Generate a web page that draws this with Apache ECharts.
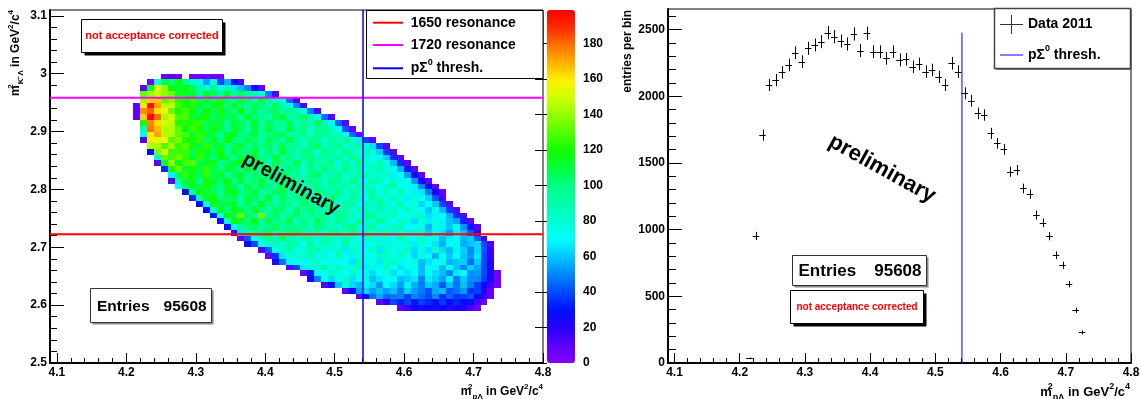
<!DOCTYPE html>
<html>
<head>
<meta charset="utf-8">
<title>Dalitz plot and p-Lambda projection</title>
<script src="https://cdn.jsdelivr.net/npm/echarts@6.0.0/dist/echarts.min.js"></script>
<style>
  html, body { margin: 0; padding: 0; background: #fff; }
  #chart { width: 1141px; height: 399px; }
</style>
</head>
<body>
<div id="chart"></div>
<script>
// axis ranges and tick labels
const xRange = [4.09, 4.8]
const yRangeLeft = [2.5, 3.11]
const yRangeRight = [0, 2655]
const zRange = [0, 199]
const xTicks = [4.1, 4.2, 4.3, 4.4, 4.5, 4.6, 4.7, 4.8]
const yTicksLeft = [2.5, 2.6, 2.7, 2.8, 2.9, 3.0, 3.1]
const yTicksRight = [0, 500, 1000, 1500, 2000, 2500]
const zTicks = [0, 20, 40, 60, 80, 100, 120, 140, 160, 180]

const binWidth = 0.01
const entries = 95608

// masses in GeV for the reference lines
const mProton = 0.938272
const mSigma0 = 1.192642
const mRes1650 = 1.65
const mRes1720 = 1.72

// 2D histogram, one row per y bin: lower y edge, lower x edge of first filled bin, counts
const rowYLow = [2.99, 2.98, 2.97, 2.96, 2.95, 2.94, 2.93, 2.92, 2.91, 2.90, 2.89, 2.88, 2.87, 2.86,
  2.85, 2.84, 2.83, 2.82, 2.81, 2.80, 2.79, 2.78, 2.77, 2.76, 2.75, 2.74, 2.73, 2.72, 2.71, 2.70,
  2.69, 2.68, 2.67, 2.66, 2.65, 2.64, 2.63, 2.62, 2.61, 2.60, 2.59]
const rowXStart = [4.25, 4.23, 4.22, 4.22, 4.22, 4.21, 4.21, 4.21, 4.22, 4.22, 4.22, 4.22, 4.23, 4.23,
  4.24, 4.24, 4.25, 4.26, 4.26, 4.27, 4.28, 4.29, 4.30, 4.31, 4.32, 4.33, 4.34, 4.35, 4.36, 4.37,
  4.39, 4.40, 4.41, 4.43, 4.45, 4.46, 4.48, 4.51, 4.53, 4.56, 4.59]
const rowCounts = [
  [6, 9, 5, 0, 4, 7, 5, 8, 4],
  [5, 70, 110, 102, 116, 98, 84, 68, 54, 80, 40, 56, 30, 14],
  [8, 112, 152, 138, 118, 112, 120, 104, 92, 80, 98, 74, 86, 66, 58, 50, 30, 8],
  [133, 141, 148, 138, 135, 114, 113, 113, 96, 113, 106, 99, 112, 92, 105, 95, 90, 81, 48, 12],
  [142, 164, 166, 132, 138, 123, 120, 125, 104, 116, 104, 121, 104, 98, 109, 104, 93, 109, 99, 83, 70, 45, 12],
  [8, 160, 195, 172, 146, 149, 126, 115, 121, 115, 103, 118, 111, 101, 115, 103, 95, 108, 103, 89, 106, 90, 78, 50, 12],
  [10, 175, 182, 162, 156, 133, 120, 128, 119, 103, 119, 106, 117, 106, 99, 116, 100, 106, 92, 101, 106, 93, 100, 90, 76, 48, 12],
  [8, 165, 198, 180, 144, 152, 127, 128, 109, 115, 119, 105, 111, 104, 109, 97, 112, 103, 98, 89, 105, 110, 92, 96, 103, 90, 74, 46, 10],
  [120, 176, 162, 150, 146, 121, 122, 123, 125, 106, 109, 111, 94, 112, 106, 99, 113, 93, 106, 96, 98, 106, 86, 99, 88, 106, 88, 72, 44, 10],
  [86, 178, 168, 145, 145, 131, 115, 126, 118, 107, 120, 107, 98, 111, 106, 92, 109, 97, 109, 99, 92, 109, 93, 99, 85, 94, 99, 86, 70, 42, 8],
  [70, 160, 172, 145, 145, 130, 129, 112, 125, 114, 107, 97, 112, 117, 99, 103, 110, 92, 98, 104, 108, 91, 95, 98, 82, 100, 94, 87, 86, 70, 44, 8],
  [12, 160, 152, 156, 130, 136, 121, 119, 125, 103, 114, 102, 119, 103, 97, 108, 103, 92, 108, 102, 93, 107, 95, 87, 100, 95, 81, 98, 86, 98, 84, 66, 40, 8],
  [145, 144, 129, 141, 124, 131, 118, 109, 124, 107, 112, 97, 106, 111, 98, 105, 99, 104, 92, 107, 98, 93, 84, 100, 105, 87, 91, 98, 80, 86, 92, 82, 64, 40, 10],
  [30, 135, 150, 127, 126, 125, 106, 122, 114, 106, 119, 98, 111, 101, 103, 111, 91, 104, 93, 111, 95, 89, 100, 95, 84, 100, 94, 85, 99, 87, 79, 92, 80, 62, 38, 10],
  [80, 132, 127, 134, 124, 112, 124, 111, 102, 114, 108, 94, 111, 99, 111, 101, 94, 111, 95, 101, 87, 96, 101, 88, 95, 89, 94, 82, 97, 88, 83, 74, 78, 60, 36, 8],
  [10, 112, 140, 115, 127, 129, 109, 112, 118, 99, 104, 110, 114, 97, 101, 104, 88, 106, 100, 93, 107, 87, 100, 90, 92, 100, 80, 93, 82, 100, 84, 78, 89, 76, 58, 34, 8],
  [35, 118, 133, 110, 120, 108, 125, 108, 101, 111, 106, 95, 111, 105, 96, 110, 98, 90, 103, 98, 84, 101, 89, 101, 91, 84, 101, 85, 91, 77, 86, 91, 77, 74, 56, 32, 8],
  [68, 108, 125, 114, 107, 124, 107, 112, 97, 106, 111, 98, 105, 99, 104, 92, 107, 98, 93, 84, 100, 105, 87, 91, 98, 80, 86, 92, 96, 79, 83, 85, 68, 72, 54, 30, 8],
  [10, 92, 111, 116, 100, 118, 112, 104, 117, 97, 110, 100, 102, 110, 90, 103, 92, 110, 94, 88, 99, 94, 83, 99, 93, 84, 98, 86, 78, 91, 86, 71, 87, 74, 70, 52, 30, 8],
  [70, 104, 115, 106, 120, 108, 100, 112, 107, 93, 110, 98, 110, 100, 93, 110, 94, 100, 86, 95, 100, 87, 94, 88, 93, 81, 96, 87, 82, 73, 88, 92, 73, 76, 68, 50, 30, 8],
  [30, 96, 119, 111, 106, 97, 112, 117, 99, 103, 110, 92, 98, 104, 108, 91, 95, 98, 82, 100, 94, 87, 101, 81, 94, 84, 86, 94, 74, 86, 74, 91, 74, 67, 66, 48, 28, 8],
  [34, 90, 115, 119, 102, 105, 108, 92, 110, 104, 97, 111, 91, 104, 94, 96, 104, 84, 97, 86, 104, 88, 82, 93, 88, 77, 93, 87, 77, 90, 77, 68, 80, 74, 62, 42, 12],
  [30, 72, 118, 107, 108, 115, 94, 107, 96, 114, 98, 92, 103, 98, 87, 103, 97, 88, 102, 90, 82, 95, 90, 76, 93, 81, 93, 82, 74, 90, 73, 78, 63, 71, 60, 40, 10],
  [28, 76, 115, 101, 116, 109, 99, 113, 101, 93, 106, 101, 87, 104, 92, 104, 94, 87, 104, 88, 94, 80, 89, 94, 81, 88, 81, 85, 72, 86, 76, 70, 60, 75, 58, 38, 10],
  [32, 70, 119, 106, 135, 104, 97, 137, 98, 104, 90, 99, 104, 91, 98, 92, 97, 85, 100, 91, 86, 77, 93, 98, 80, 83, 89, 70, 75, 80, 83, 65, 68, 70, 56, 36, 10],
  [30, 76, 119, 110, 102, 115, 94, 107, 97, 99, 107, 87, 100, 89, 107, 91, 85, 96, 91, 80, 96, 90, 81, 95, 82, 73, 85, 79, 64, 80, 67, 78, 67, 59, 54, 34, 10],
  [28, 70, 96, 101, 106, 92, 101, 106, 93, 100, 94, 99, 87, 102, 93, 88, 79, 95, 100, 82, 86, 93, 75, 80, 85, 88, 70, 73, 75, 58, 75, 68, 60, 73, 52, 32, 10],
  [12, 66, 88, 95, 99, 106, 88, 94, 100, 104, 87, 91, 94, 78, 96, 90, 83, 97, 77, 90, 80, 82, 89, 68, 80, 68, 85, 68, 61, 71, 65, 53, 68, 59, 42, 16],
  [10, 42, 72, 88, 98, 87, 105, 89, 83, 94, 89, 78, 94, 88, 79, 93, 81, 73, 86, 81, 67, 84, 72, 89, 78, 70, 86, 69, 74, 59, 67, 71, 57, 61, 44, 14],
  [26, 40, 70, 84, 89, 81, 94, 89, 75, 92, 80, 92, 82, 75, 92, 76, 82, 68, 77, 82, 69, 76, 76, 80, 67, 81, 71, 65, 56, 71, 75, 56, 59, 63, 40, 12],
  [10, 44, 72, 84, 94, 76, 82, 88, 92, 75, 79, 82, 66, 84, 78, 71, 85, 65, 86, 76, 77, 84, 63, 75, 64, 81, 64, 58, 68, 62, 50, 63, 42, 16],
  [8, 36, 66, 76, 79, 81, 89, 69, 82, 71, 89, 73, 67, 78, 82, 71, 87, 81, 72, 85, 72, 63, 75, 70, 56, 72, 60, 71, 60, 52, 66, 40, 18],
  [24, 46, 68, 76, 69, 78, 83, 70, 77, 71, 76, 64, 89, 80, 75, 66, 82, 87, 69, 72, 78, 59, 65, 71, 74, 57, 60, 62, 45, 61, 40, 20],
  [10, 40, 66, 84, 80, 94, 74, 87, 77, 79, 87, 67, 80, 69, 87, 71, 65, 75, 69, 58, 74, 68, 58, 72, 59, 50, 62, 55, 40, 22],
  [8, 32, 70, 72, 87, 77, 70, 87, 71, 77, 63, 72, 77, 64, 71, 65, 70, 58, 73, 64, 59, 50, 66, 70, 51, 53, 40, 24, 4],
  [22, 48, 70, 63, 78, 83, 65, 70, 77, 59, 65, 71, 75, 58, 62, 65, 49, 67, 61, 54, 68, 48, 61, 50, 50, 38, 22, 3],
  [12, 30, 60, 79, 63, 58, 69, 64, 53, 69, 63, 54, 68, 56, 48, 61, 56, 42, 59, 47, 59, 48, 38, 28, 14, 3],
  [10, 30, 54, 64, 53, 60, 54, 59, 48, 62, 53, 48, 41, 55, 58, 42, 46, 53, 36, 38, 22, 8],
  [8, 24, 46, 55, 45, 47, 49, 38, 50, 45, 40, 50, 35, 44, 37, 38, 42, 26, 18, 6],
  [8, 20, 40, 33, 39, 31, 38, 34, 30, 37, 28, 34, 26, 30, 14, 6],
  [8, 16, 26, 20, 28, 23, 27, 19, 25, 21, 14, 5]
]

// projection onto m2(p Lambda): bin centres and entries per bin
const projCenters = [4.215, 4.225, 4.235, 4.245, 4.255, 4.265, 4.275, 4.285, 4.295, 4.305,
  4.315, 4.325, 4.335, 4.345, 4.355, 4.365, 4.375, 4.385, 4.395, 4.405,
  4.415, 4.425, 4.435, 4.445, 4.455, 4.465, 4.475, 4.485, 4.495, 4.505,
  4.515, 4.525, 4.535, 4.545, 4.555, 4.565, 4.575, 4.585, 4.595, 4.605,
  4.615, 4.625, 4.635, 4.645, 4.655, 4.665, 4.675, 4.685, 4.695, 4.705,
  4.715, 4.725, 4.735]
const projCounts = [35, 953, 1709, 2085, 2122, 2180, 2235, 2327, 2260, 2360,
  2385, 2410, 2478, 2448, 2415, 2393, 2468, 2343, 2473, 2335,
  2335, 2285, 2335, 2273, 2278, 2222, 2243, 2185, 2198, 2147,
  2085, 2248, 2185, 2023, 1967, 1872, 1860, 1722, 1647, 1602,
  1434, 1447, 1309, 1267, 1109, 1051, 951, 808, 733, 591,
  396, 230, 8]

// ---- derived values ----
const thresh = Math.pow(mProton + mSigma0, 2)
const res1650 = mRes1650 * mRes1650
const res1720 = mRes1720 * mRes1720

const cells = []
rowCounts.forEach((row, r) => {
  row.forEach((n, k) => {
    if (n > 0) cells.push([+(rowXStart[r] + k * binWidth).toFixed(3), rowYLow[r], n])
  })
})
const projData = projCenters.map((x, i) => [x, projCounts[i]])

const font = '"Liberation Sans", Arial, Helvetica, sans-serif'
// ROOT style rainbow palette, violet (low) to red (high)
const paletteColors = ['#8000ff', '#5c00ff', '#2800ff', '#000eff', '#004aff', '#0087ff', '#00c5ff',
  '#00fffd', '#00ffd6', '#00ffae', '#00ff87', '#00ff3e', '#0fff00', '#4fff00', '#8fff00',
  '#ceff00', '#fff100', '#ffb200', '#ff7100', '#ff2a00', '#ff0000']

function minorValues(ticks, n, min, max) {
  const step = (ticks[1] - ticks[0]) / n
  const out = []
  let v = ticks[0] - step * Math.floor((ticks[0] - min) / step + 1e-9)
  for (; v <= max + 1e-9; v += step) out.push(+v.toFixed(6))
  return out
}

const plainNumber = (v) => String(+v.toFixed(6))

// major axis (line, labels, long ticks) plus an overlay axis carrying the minor ticks
function axisPair(gridIndex, range, ticks, majorLen, minorLen, labelMargin, position) {
  const common = {
    type: 'value', gridIndex, min: range[0], max: range[1], position,
    splitLine: { show: false }, minorTick: { show: false }
  }
  const major = Object.assign({}, common, {
    axisLine: { show: true, onZero: false, lineStyle: { color: '#000', width: 2 } },
    axisTick: { show: true, inside: true, length: majorLen, customValues: ticks, lineStyle: { color: '#000', width: 1 } },
    axisLabel: {
      show: true, customValues: ticks, margin: labelMargin, formatter: plainNumber,
      color: '#000', fontFamily: font, fontWeight: 'bold', fontSize: 12
    }
  })
  const minor = Object.assign({}, common, {
    axisLine: { show: false, onZero: false },
    axisTick: { show: true, inside: true, length: minorLen, customValues: minorValues(ticks, 5, range[0], range[1]), lineStyle: { color: '#000', width: 1 } },
    axisLabel: { show: false }
  })
  return [major, minor]
}

function renderCell(params, api) {
  const x0 = api.value(0)
  const y0 = api.value(1)
  const a = api.coord([x0, y0 + binWidth])
  const b = api.coord([x0 + binWidth, y0])
  const left = Math.round(a[0]), top = Math.round(a[1])
  return {
    type: 'rect',
    shape: { x: left, y: top, width: Math.round(b[0]) - left, height: Math.round(b[1]) - top },
    style: { fill: api.visual('color') }
  }
}

function renderCross(params, api) {
  const x = api.value(0)
  const n = api.value(1)
  const err = Math.sqrt(n)
  const l = api.coord([x - binWidth / 2, n])
  const r = api.coord([x + binWidth / 2, n])
  const t = api.coord([x, n + err])
  const b = api.coord([x, n - err])
  const cy = Math.round(l[1]) + 0.5
  const cx = Math.round(t[0]) + 0.5
  const st = { stroke: '#000', lineWidth: 1 }
  return {
    type: 'group',
    children: [
      { type: 'line', shape: { x1: l[0], y1: cy, x2: r[0], y2: cy }, style: st },
      { type: 'line', shape: { x1: cx, y1: t[1], x2: cx, y2: b[1] }, style: st }
    ]
  }
}

// ---- decorations: legends, stat boxes, titles ----
function rect(x, y, w, h, fill, stroke, lw) {
  return { type: 'rect', z: 100, silent: true, shape: { x, y, width: w, height: h },
    style: { fill, stroke: stroke || null, lineWidth: lw || 0 } }
}
function seg(x1, y1, x2, y2, color, w) {
  return { type: 'line', z: 102, silent: true, shape: { x1, y1, x2, y2 }, style: { stroke: color, lineWidth: w } }
}
function scripts(size) {
  const base = { fontFamily: font, fontWeight: 'bold', fontSize: Math.round(size * 0.66), lineHeight: Math.round(size * 0.8), fill: '#000' }
  return {
    s: Object.assign({}, base, { verticalAlign: 'top' }),
    s0: Object.assign({}, base, { verticalAlign: 'top', width: 1 }),
    b: Object.assign({}, base, { verticalAlign: 'bottom' })
  }
}
function txt(x, y, text, size, align, color, rotation) {
  return {
    type: 'text', z: 103, silent: true, x, y, rotation: rotation || 0,
    style: {
      text, fill: color || '#000', fontFamily: font, fontWeight: 'bold', fontSize: size,
      lineHeight: Math.round(size * 1.5),
      align, textAlign: align, verticalAlign: 'middle', textVerticalAlign: 'middle',
      rich: scripts(size)
    }
  }
}

const deg = Math.PI / 180
const graphics = [
  // left legend
  rect(366.5, 10.5, 176.5, 68, '#fff', '#000', 1),
  seg(373, 22.7, 403, 22.7, '#ff0000', 2), txt(410.7, 22.7, '1650 resonance', 14, 'left'),
  seg(373, 45, 403, 45, '#ff00ff', 2), txt(410.7, 45, '1720 resonance', 14, 'left'),
  seg(373, 68.3, 403, 68.3, '#0000ff', 2), txt(410.7, 68.3, 'p\u03A3{s|0} thresh.', 14, 'left'),
  // left boxes
  rect(84.5, 22.5, 141, 33, '#000'), rect(81.5, 19.5, 141, 33, '#fff', '#000', 1),
  txt(152, 36, 'not acceptance corrected', 11, 'center', '#ff0000'),
  rect(92.5, 290.5, 121, 34, '#888'), rect(90.5, 288.5, 121, 34, '#fff', '#333', 1),
  txt(97, 306.5, 'Entries', 15.5, 'left'), txt(206.7, 306.5, String(entries), 15.5, 'right'),
  txt(291, 184, 'preliminary', 20, 'center', '#000', -29 * deg),
  // left titles
  txt(543, 392, 'm{s0|2}{b|p\u039B} in GeV{s|2}/c{s|4}', 12, 'right'),
  txt(16, 10, 'm{s0|2}{b|K\u207B\u039B} in GeV{s|2}/c{s|4}', 12, 'right', '#000', 90 * deg),
  // right legend
  rect(996, 10, 136, 60, '#777'), rect(994.5, 8.5, 136, 60, '#fff', '#444', 1.5),
  seg(1000, 24.5, 1023, 24.5, '#333', 1), seg(1011.5, 15, 1011.5, 34, '#333', 1),
  txt(1028, 24.5, 'Data 2011', 14, 'left'),
  seg(1000, 55, 1023, 55, '#0000ff', 1), txt(1028, 55, 'p\u03A3{s|0} thresh.', 14, 'left'),
  // right boxes
  rect(794.5, 257.5, 134, 30, '#888'), rect(792.5, 255.5, 134, 30, '#fff', '#333', 1),
  txt(798.5, 271, 'Entries', 17, 'left'), txt(921.5, 271, String(entries), 17, 'right'),
  rect(793.5, 293.5, 133, 33, '#000'), rect(790.5, 290.5, 133, 33, '#fff', '#000', 1),
  txt(857, 307, 'not acceptance corrected', 10, 'center', '#ff0000'),
  txt(882, 169, 'preliminary', 22, 'center', '#000', -29 * deg),
  // right titles
  txt(1130, 392, 'm{s0|2}{b|p\u039B} in GeV{s|2}/c{s|4}', 13, 'right'),
  txt(628, 10, 'entries per bin', 12, 'right', '#000', 90 * deg)
]

const chart = echarts.init(document.getElementById('chart'), null, { renderer: 'canvas' })

const option = {
  animation: false,
  backgroundColor: '#fff',
  textStyle: { fontFamily: font },
  grid: [
    { left: 50, top: 10, width: 493, height: 353, show: true, borderColor: '#000', borderWidth: 1, backgroundColor: 'transparent', outerBoundsMode: 'none' },
    { left: 668, top: 9, width: 463, height: 354, show: true, borderColor: '#000', borderWidth: 1, backgroundColor: 'transparent', outerBoundsMode: 'none' },
    { left: 547, top: 10, width: 28, height: 353, show: false, outerBoundsMode: 'none' }
  ],
  xAxis: [
    ...axisPair(0, xRange, xTicks, 10, 5, 4, 'bottom'),
    ...axisPair(1, xRange, xTicks, 10, 5, 4, 'bottom'),
    { type: 'value', gridIndex: 2, min: 0, max: 1, show: false }
  ],
  yAxis: [
    ...axisPair(0, yRangeLeft, yTicksLeft, 14, 7, 3, 'left'),
    ...axisPair(1, yRangeRight, yTicksRight, 14, 8, 3, 'left'),
    {
      type: 'value', gridIndex: 2, min: zRange[0], max: zRange[1], position: 'right',
      axisLine: { show: false },
      axisTick: { show: true, inside: true, length: 12, customValues: zTicks, lineStyle: { color: '#000', width: 1 } },
      axisLabel: { show: true, customValues: zTicks, margin: 8, formatter: plainNumber, color: '#000', fontFamily: font, fontWeight: 'bold', fontSize: 12 },
      splitLine: { show: false }
    }
  ],
  visualMap: {
    type: 'continuous', seriesIndex: 0, dimension: 2,
    min: zRange[0], max: zRange[1], calculable: false, realtime: false,
    left: 547, top: 10, itemWidth: 28, itemHeight: 353, padding: 0,
    inRange: { color: paletteColors }
  },
  graphic: { elements: graphics },
  series: [
    {
      name: 'Dalitz', type: 'custom', xAxisIndex: 0, yAxisIndex: 0,
      renderItem: renderCell, data: cells, silent: true,
      encode: { x: 0, y: 1 }
    },
    {
      name: '1650 resonance', type: 'line', xAxisIndex: 0, yAxisIndex: 0, symbol: 'none', silent: true,
      data: [[xRange[0], res1650], [xRange[1], res1650]], lineStyle: { color: '#ff0000', width: 2 }, z: 5
    },
    {
      name: '1720 resonance', type: 'line', xAxisIndex: 0, yAxisIndex: 0, symbol: 'none', silent: true,
      data: [[xRange[0], res1720], [xRange[1], res1720]], lineStyle: { color: '#ff00ff', width: 2 }, z: 5
    },
    {
      name: 'p\u03A3\u2070 thresh.', type: 'line', xAxisIndex: 0, yAxisIndex: 0, symbol: 'none', silent: true,
      data: [[thresh, yRangeLeft[0]], [thresh, yRangeLeft[1]]], lineStyle: { color: '#0000ff', width: 1.5 }, z: 5
    },
    {
      name: 'Data 2011', type: 'custom', xAxisIndex: 2, yAxisIndex: 2,
      renderItem: renderCross, data: projData, silent: true,
      encode: { x: 0, y: 1 }
    },
    {
      name: 'p\u03A3\u2070 thresh. (projection)', type: 'line', xAxisIndex: 2, yAxisIndex: 2, symbol: 'none', silent: true,
      data: [[thresh, 0], [thresh, Math.max(...projCounts)]], lineStyle: { color: '#0000ff', width: 1 }, z: 5
    }
  ]
}

chart.setOption(option)
</script>
</body>
</html>
